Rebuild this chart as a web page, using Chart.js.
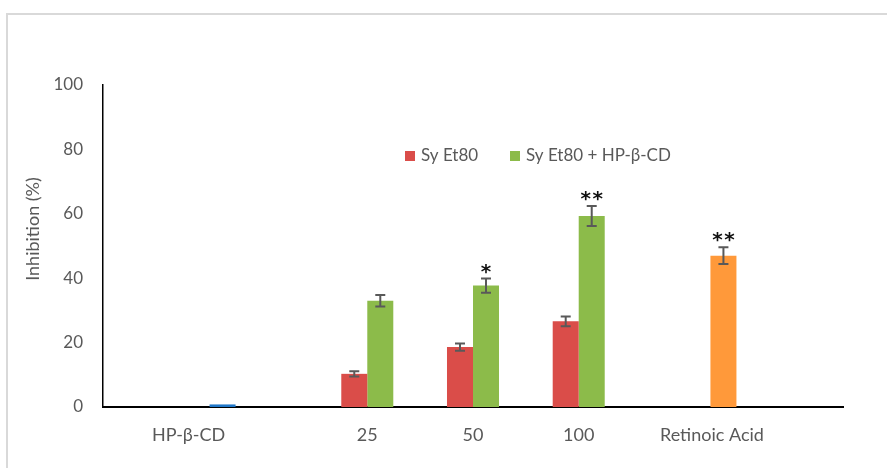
<!DOCTYPE html>
<html>
<head>
<meta charset="utf-8">
<script src="https://cdn.jsdelivr.net/npm/chart.js@4/dist/chart.umd.min.js"></script>
<style>
  html, body { margin: 0; padding: 0; background: #ffffff; }
  #wrap { position: relative; width: 887px; height: 468px; }
</style>
</head>
<body>
<div id="wrap"><canvas id="chart" width="887" height="468"></canvas></div>
<script>
// Categories along the x axis (outer slots left empty for spacing)
const categories = ['', 'HP-β-CD', '25', '50', '100', 'Retinoic Acid', ''];

// Inhibition (%) per series, with standard-error half widths
const hpBetaCd      = [null, 0.8, null, null, null, null, null];
const syEt80        = [null, null, 10.3, 18.6, 26.6, null, null];
const syEt80Err     = [null, null, 0.8, 1.1, 1.5, null, null];
const syEt80Cd      = [null, null, 33.0, 37.7, 59.3, null, null];
const syEt80CdErr   = [null, null, 1.8, 2.2, 3.1, null, null];
const retinoicAcid  = [null, null, null, null, null, 47.0, null];
const retinoicErr   = [null, null, null, null, null, 2.6, null];

// Significance marks drawn above the error bars
const syEt80CdSig   = [null, null, null, '*', '**', null, null];
const retinoicSig   = [null, null, null, null, null, '**', null];

// Y axis ticks
const yTicks = [0, 20, 40, 60, 80, 100];

const TEXT = '#595959';
const FONT = 'Lato, "Open Sans", sans-serif';

// Where each category caption sits, in category-index units
const captionAt = [null, 0.31, 2, 3, 4, 5.26, null];

const annotate = {
  id: 'annotate',
  beforeDraw(chart) {
    const ctx = chart.ctx;
    ctx.save();
    ctx.fillStyle = '#ffffff';
    ctx.fillRect(0, 0, chart.width, chart.height);
    ctx.strokeStyle = '#d9d9d9';
    ctx.lineWidth = 2;
    ctx.beginPath();
    ctx.moveTo(7, chart.height);
    ctx.lineTo(7, 14);
    ctx.lineTo(chart.width, 14);
    ctx.stroke();
    ctx.restore();
  },
  afterDatasetsDraw(chart) {
    const ctx = chart.ctx;
    const y = chart.scales.y;
    ctx.save();
    chart.data.datasets.forEach((ds, i) => {
      const meta = chart.getDatasetMeta(i);
      meta.data.forEach((bar, j) => {
        const v = ds.data[j];
        if (v === null || v === undefined) return;
        let top = y.getPixelForValue(v);
        if (ds.errors && ds.errors[j] != null) {
          const e = ds.errors[j];
          const y1 = y.getPixelForValue(v + e);
          const y2 = y.getPixelForValue(v - e);
          ctx.strokeStyle = '#595959';
          ctx.lineWidth = 2;
          ctx.beginPath();
          ctx.moveTo(bar.x, y1); ctx.lineTo(bar.x, y2);
          ctx.moveTo(bar.x - 5, y1); ctx.lineTo(bar.x + 5, y1);
          ctx.moveTo(bar.x - 5, y2); ctx.lineTo(bar.x + 5, y2);
          ctx.stroke();
          top = y1;
        }
        if (ds.marks && ds.marks[j]) {
          ctx.fillStyle = '#111111';
          ctx.font = 'bold 20px "DejaVu Sans"';
          ctx.textAlign = 'center';
          ctx.textBaseline = 'alphabetic';
          const n = ds.marks[j].length;
          const step = 12;
          for (let k = 0; k < n; k++) {
            const cx = bar.x + (k - (n - 1) / 2) * step;
            ctx.fillText('*', cx, top - 13 + 12);
          }
        }
      });
    });
    ctx.restore();
  },
  afterDraw(chart) {
    const ctx = chart.ctx;
    const x = chart.scales.x;
    const area = chart.chartArea;
    ctx.save();
    // category captions
    ctx.fillStyle = TEXT;
    ctx.font = '18px ' + FONT;
    ctx.textAlign = 'center';
    ctx.textBaseline = 'middle';
    categories.forEach((c, i) => {
      if (!c || captionAt[i] == null) return;
      ctx.fillText(c, x.getPixelForValue(captionAt[i]), area.bottom + 28);
    });
    // y axis title
    ctx.save();
    ctx.translate(33, 229);
    ctx.rotate(-Math.PI / 2);
    ctx.font = '18px ' + FONT;
    ctx.fillText('Inhibition (%)', 0, 0);
    ctx.restore();
    // legend (the two extract series)
    ctx.font = '17px ' + FONT;
    ctx.textAlign = 'left';
    ctx.textBaseline = 'middle';
    let lx = 405;
    const ly = 156;
    chart.data.datasets.forEach(ds => {
      if (!ds.inLegend) return;
      ctx.fillStyle = ds.backgroundColor;
      ctx.fillRect(lx, ly - 5, 10, 10);
      ctx.fillStyle = TEXT;
      ctx.fillText(ds.label, lx + 16, ly);
      lx = 510;
    });
    ctx.restore();
  }
};

new Chart(document.getElementById('chart'), {
  type: 'bar',
  data: {
    labels: categories,
    datasets: [
      { label: 'HP-β-CD', data: hpBetaCd, backgroundColor: '#2077c8' },
      { label: 'Sy Et80', data: syEt80, errors: syEt80Err, backgroundColor: '#da4d49', inLegend: true },
      { label: 'Sy Et80 + HP-β-CD', data: syEt80Cd, errors: syEt80CdErr, marks: syEt80CdSig, backgroundColor: '#8cbb4a', inLegend: true },
      { label: 'Retinoic Acid', data: retinoicAcid, errors: retinoicErr, marks: retinoicSig, backgroundColor: '#ff993a' }
    ]
  },
  options: {
    responsive: false,
    animation: false,
    devicePixelRatio: 1,
    categoryPercentage: 0.984,
    barPercentage: 1.0,
    layout: { padding: { left: 0, top: 85, right: 44, bottom: 61 } },
    plugins: {
      legend: { display: false },
      tooltip: { enabled: false }
    },
    scales: {
      x: {
        grid: { display: false, drawTicks: false },
        border: { display: true, color: '#000000', width: 2 },
        ticks: { display: false },
        afterFit(s) { s.height = 0; }
      },
      y: {
        min: 0,
        max: 100,
        afterBuildTicks(s) { s.ticks = yTicks.map(v => ({ value: v })); },
        grid: { display: false, drawTicks: false },
        border: { display: true, color: '#000000', width: 1.5 },
        ticks: { color: TEXT, font: { family: FONT, size: 17 }, padding: 20 },
        afterFit(s) { s.width = 103; }
      }
    }
  },
  plugins: [annotate]
});
</script>
</body>
</html>
